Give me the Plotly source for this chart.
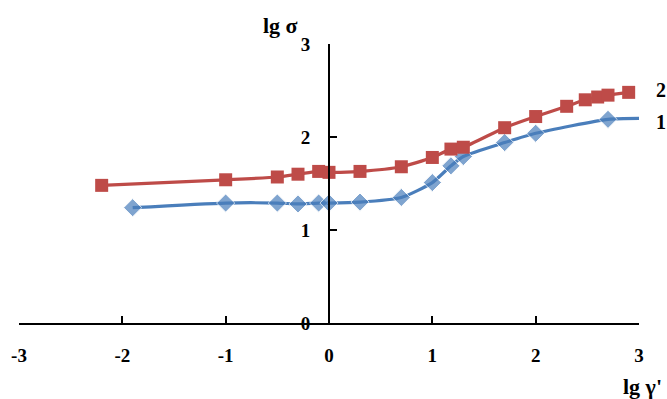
import plotly.graph_objects as go

# Series 1 (blue diamonds)
x1 = [-1.9, -1.0, -0.5, -0.3, -0.1, 0.0, 0.3, 0.7, 1.0, 1.18, 1.3, 1.7, 2.0, 2.7, 3.0]
y1 = [1.24, 1.29, 1.29, 1.28, 1.29, 1.29, 1.30, 1.35, 1.51, 1.69, 1.79, 1.94, 2.04, 2.19, 2.2]
# Series 2 (red squares)
x2 = [-2.2, -1.0, -0.5, -0.3, -0.1, 0.0, 0.3, 0.7, 1.0, 1.18, 1.3, 1.7, 2.0, 2.3, 2.48, 2.6, 2.7, 2.9]
y2 = [1.48, 1.54, 1.57, 1.60, 1.63, 1.62, 1.63, 1.68, 1.78, 1.87, 1.89, 2.10, 2.22, 2.33, 2.40, 2.43, 2.45, 2.48]

x_ticks = [-3, -2, -1, 0, 1, 2, 3]
y_ticks = [0, 1, 2, 3]
series_labels = ["1", "2"]

BLUE = "#4A7EBB"
RED = "#BE4B48"
FONT = "Liberation Serif"

fig = go.Figure()
fig.add_trace(go.Scatter(
    x=x1, y=y1, mode="lines+markers", name=series_labels[0],
    line=dict(color=BLUE, width=3.2, shape="spline", smoothing=0.6),
    marker=dict(symbol="diamond", size=[14] * (len(x1) - 1) + [0], color=BLUE),
    cliponaxis=False,
))
fig.add_trace(go.Scatter(
    x=x2, y=y2, mode="lines+markers", name=series_labels[1],
    line=dict(color=RED, width=3.2, shape="spline", smoothing=0.6),
    marker=dict(symbol="square", size=13, color=RED),
    cliponaxis=False,
))

tick_font = dict(family=FONT, size=19, color="black")

def label(x, y, text, size):
    return dict(x=x, y=y, xref="paper", yref="paper", text="<b>%s</b>" % text,
                showarrow=False, font=dict(family=FONT, size=size, color="black"),
                xanchor="center", yanchor="middle")

fig.update_layout(
    width=667, height=399,
    margin=dict(l=19, r=28, t=44, b=76, autoexpand=False),
    paper_bgcolor="white", plot_bgcolor="white",
    showlegend=False,
    font=dict(family=FONT, size=19, color="black"),
    xaxis=dict(
        range=[-3, 3], tickvals=x_ticks, ticktext=["<b>%s</b>" % v for v in x_ticks],
        showgrid=False, zeroline=False, showline=True, linecolor="black", linewidth=2,
        ticks="inside", ticklen=7, tickwidth=2, tickcolor="black",
        ticklabelstandoff=14, automargin=False,
        tickfont=tick_font,
    ),
    yaxis=dict(
        range=[0, 3], tickvals=y_ticks, ticktext=["<b>%s</b>" % v for v in y_ticks],
        anchor="free", position=0.5,
        showgrid=False, zeroline=False, showline=True, linecolor="black", linewidth=2,
        ticks="inside", ticklen=7, tickwidth=2, tickcolor="black",
        ticklabelstandoff=14, automargin=False,
        tickfont=tick_font,
    ),
    annotations=[
        label(0.421, 1.068, "lg σ", 22),
        label(1.005, -0.226, "lg γ'", 22),
        label(1.035, 0.835, series_labels[1], 20),
        label(1.035, 0.720, series_labels[0], 20),
    ],
)

fig.write_html(
    "out.html",
    config={"displayModeBar": False},
    post_script="document.body.style.margin='0';document.body.style.overflow='hidden';",
)
